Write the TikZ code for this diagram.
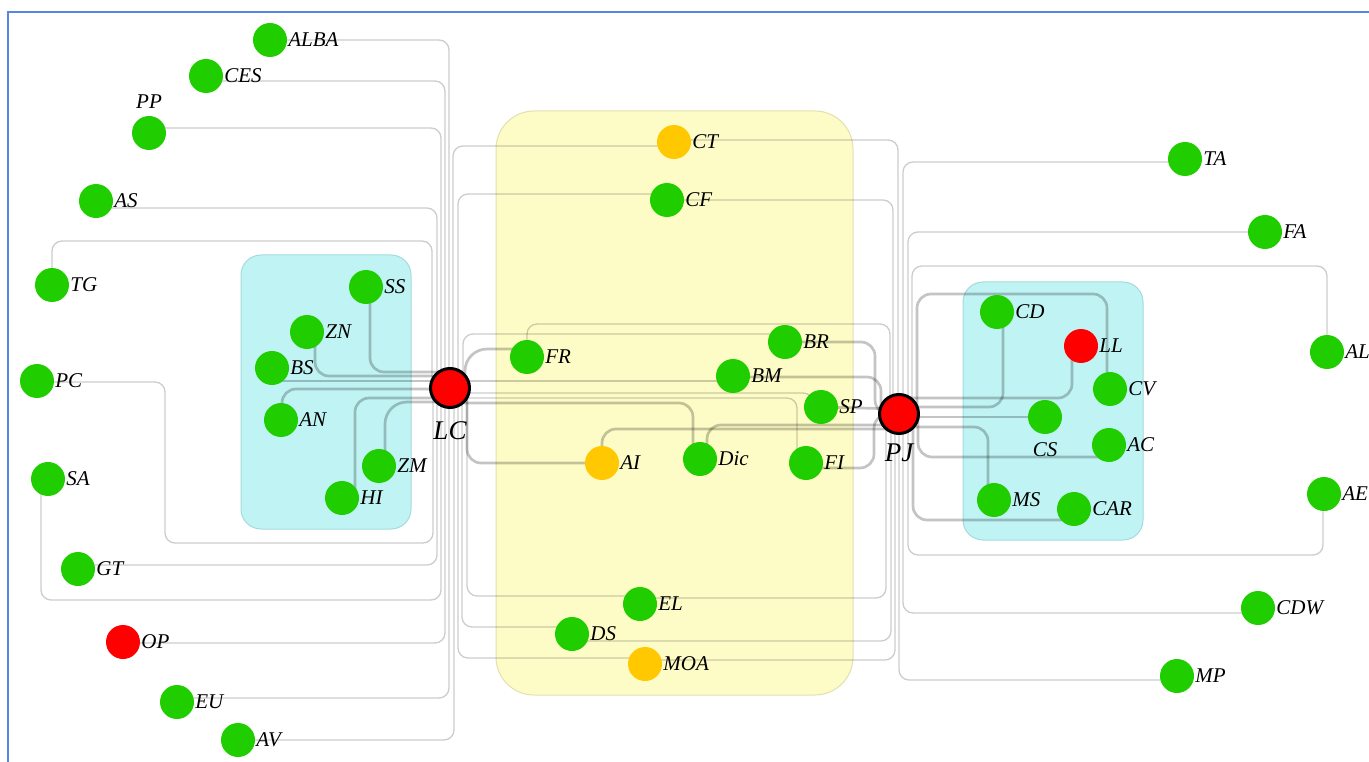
\documentclass[tikz,border=0pt]{standalone}
\usepackage{fontspec}
\setmainfont{Liberation Serif}
\pgfdeclarelayer{boxes}
\pgfdeclarelayer{wires}
\pgfsetlayers{boxes,wires,main}

\definecolor{nodegreen}{RGB}{32,206,0}
\definecolor{nodeorange}{RGB}{255,200,0}
\definecolor{nodered}{RGB}{255,0,0}
\definecolor{groupcyan}{RGB}{192,244,244}
\definecolor{groupcyanedge}{RGB}{165,218,220}
\definecolor{groupyellow}{RGB}{253,252,199}
\definecolor{groupyellowedge}{RGB}{226,224,176}
\definecolor{frameblue}{RGB}{85,135,225}

\tikzset{
  vtx/.style={circle, inner sep=0pt, minimum size=34pt, draw=none},
  gvtx/.style={vtx, fill=nodegreen},
  ovtx/.style={vtx, fill=nodeorange},
  rvtx/.style={vtx, fill=nodered},
  hub/.style={circle, inner sep=0pt, minimum size=39pt, fill=nodered, draw=black, line width=3pt},
  lab/.style={font=\fontsize{21}{21}\selectfont\itshape, inner sep=1pt},
  hublab/.style={font=\fontsize{27}{27}\selectfont\itshape, inner sep=1pt},
  thinw/.style={draw=black, draw opacity=0.2, line width=1.3pt, rounded corners=10pt},
  fatw/.style={draw=black, draw opacity=0.23, line width=2.7pt, rounded corners=14pt},
  cyanbox/.style={fill=groupcyan, draw=groupcyanedge, line width=1pt, rounded corners=20pt},
  yellowbox/.style={fill=groupyellow, draw=groupyellowedge, line width=1pt, rounded corners=38pt},
}

\begin{document}
\begin{tikzpicture}[x=1pt, y=-1pt]
\useasboundingbox (0,0) rectangle (1369,762);

% frame
\draw[frameblue, line width=1.5pt] (8,770) -- (8,12) -- (1375,12);

% group boxes
\begin{pgfonlayer}{boxes}
  \draw[cyanbox] (241,255) rectangle (411,529);
  \draw[yellowbox] (496,111) rectangle (853,695);
  \draw[cyanbox] (963,282) rectangle (1143,540);
\end{pgfonlayer}

% hubs
\node[hub, label={[hublab, label distance=11pt]south:LC}] (LC) at (450,388) {};
\node[hub, label={[hublab, label distance=8pt]south:PJ}] (PJ) at (899,414) {};

% left outer nodes
\node[gvtx, label={[lab]east:ALBA}] (ALBA) at (270,40) {};
\node[gvtx, label={[lab]east:CES}] (CES) at (206,76) {};
\node[gvtx, label={[lab, label distance=6pt]north:PP}] (PP) at (149,133) {};
\node[gvtx, label={[lab]east:AS}] (AS) at (96,201) {};
\node[gvtx, label={[lab]east:TG}] (TG) at (52,285) {};
\node[gvtx, label={[lab]east:PC}] (PC) at (37,381) {};
\node[gvtx, label={[lab]east:SA}] (SA) at (48,479) {};
\node[gvtx, label={[lab]east:GT}] (GT) at (78,569) {};
\node[rvtx, label={[lab]east:OP}] (OP) at (123,642) {};
\node[gvtx, label={[lab]east:EU}] (EU) at (177,702) {};
\node[gvtx, label={[lab]east:AV}] (AV) at (238,740) {};

% left group
\node[gvtx, label={[lab]east:SS}] (SS) at (366,287) {};
\node[gvtx, label={[lab]east:ZN}] (ZN) at (307,332) {};
\node[gvtx, label={[lab]east:BS}] (BS) at (272,368) {};
\node[gvtx, label={[lab]east:AN}] (AN) at (281,420) {};
\node[gvtx, label={[lab]east:ZM}] (ZM) at (379,466) {};
\node[gvtx, label={[lab]east:HI}] (HI) at (342,498) {};

% central group
\node[ovtx, label={[lab]east:CT}] (CT) at (674,142) {};
\node[gvtx, label={[lab]east:CF}] (CF) at (667,200) {};
\node[gvtx, label={[lab]east:FR}] (FR) at (527,357) {};
\node[gvtx, label={[lab]east:BR}] (BR) at (785,342) {};
\node[gvtx, label={[lab]east:BM}] (BM) at (733,376) {};
\node[gvtx, label={[lab]east:SP}] (SP) at (821,407) {};
\node[ovtx, label={[lab]east:AI}] (AI) at (602,463) {};
\node[gvtx, label={[lab]east:Dic}] (Dic) at (700,459) {};
\node[gvtx, label={[lab]east:FI}] (FI) at (806,463) {};
\node[gvtx, label={[lab]east:EL}] (EL) at (640,604) {};
\node[gvtx, label={[lab]east:DS}] (DS) at (572,634) {};
\node[ovtx, label={[lab]east:MOA}] (MOA) at (645,664) {};

% right group
\node[gvtx, label={[lab]east:CD}] (CD) at (997,312) {};
\node[rvtx, label={[lab]east:LL}] (LL) at (1081,346) {};
\node[gvtx, label={[lab]east:CV}] (CV) at (1110,389) {};
\node[gvtx, label={[lab, label distance=7pt]south:CS}] (CS) at (1045,417) {};
\node[gvtx, label={[lab]east:AC}] (AC) at (1109,445) {};
\node[gvtx, label={[lab]east:MS}] (MS) at (994,500) {};
\node[gvtx, label={[lab]east:CAR}] (CAR) at (1074,509) {};

% right outer nodes
\node[gvtx, label={[lab]east:TA}] (TA) at (1185,159) {};
\node[gvtx, label={[lab]east:FA}] (FA) at (1265,232) {};
\node[gvtx, label={[lab]east:AL}] (AL) at (1327,352) {};
\node[gvtx, label={[lab]east:AE}] (AE) at (1324,494) {};
\node[gvtx, label={[lab]east:CDW}] (CDW) at (1258,608) {};
\node[gvtx, label={[lab]east:MP}] (MP) at (1177,676) {};

\begin{pgfonlayer}{wires}
  % left outer links into LC
  \draw[thinw] (ALBA.center) -| ([xshift=-1pt]LC.center);
  \draw[thinw] ([yshift=-5pt]CES.center) -| ([xshift=-5pt]LC.center);
  \draw[thinw] ([yshift=5pt]PP.center) -| ([xshift=-9pt]LC.center);
  \draw[thinw] ([yshift=-7pt]AS.center) -| ([xshift=-13pt]LC.center);
  \draw[thinw] (TG.center) |- (432,241) -- ([xshift=-18pt]LC.center);
  \draw[thinw] ([yshift=-1pt]PC.center) -| (165,543) -| ([xshift=-17pt]LC.center);
  \draw[thinw] ([yshift=4pt]GT.center) -| ([xshift=-13pt]LC.center);
  \draw[thinw] ([xshift=-7pt]SA.center) |- (441,600) -- ([xshift=-9pt]LC.center);
  \draw[thinw] ([yshift=-1pt]OP.center) -| ([xshift=-5pt]LC.center);
  \draw[thinw] ([yshift=4pt]EU.center) -| ([xshift=-1pt]LC.center);
  \draw[thinw] (AV.center) -| ([xshift=4pt]LC.center);

  % left group links
  \draw[fatw] ([xshift=4pt]SS.center) |- ([yshift=16pt]LC.center);
  \draw[fatw] ([xshift=8pt]ZN.center) |- ([yshift=12pt]LC.center);
  \draw[fatw] ([yshift=-13pt]BS.center) -- ([yshift=7pt]LC.center);
  \draw[fatw] ([xshift=1pt]AN.center) |- ([yshift=-1pt]LC.center);
  \draw[fatw] ([xshift=13pt]HI.center) |- ([yshift=-10pt]LC.center);
  \draw[fatw, rounded corners=22pt] ([xshift=6pt]ZM.center) |- ([yshift=-14pt]LC.center);

  % central links
  \draw[thinw] ([yshift=-4pt]CT.center) -| ([xshift=3pt]LC.center);
  \draw[thinw] ([yshift=2pt]CT.center) -| ([xshift=-1pt]PJ.center);
  \draw[thinw] ([yshift=6pt]CF.center) -| ([xshift=8pt]LC.center);
  \draw[thinw] (CF.center) -| ([xshift=-6pt]PJ.center);
  \draw[thinw] ([yshift=8pt]EL.center) -| ([xshift=17pt]LC.center);
  \draw[thinw] ([yshift=6pt]EL.center) -| ([xshift=-13pt]PJ.center);
  \draw[thinw] ([yshift=7pt]DS.center) -| ([xshift=12pt]LC.center);
  \draw[thinw] ([yshift=-7pt]DS.center) -| ([xshift=-8pt]PJ.center);
  \draw[thinw] ([yshift=6pt]MOA.center) -| ([xshift=8pt]LC.center);
  \draw[thinw] ([yshift=4pt]MOA.center) -| ([xshift=-4pt]PJ.center);
  \draw[thinw] (FR.center) |- (890,324) -- ([xshift=-9pt]PJ.center);
  \draw[fatw, rounded corners=22pt] ([xshift=15pt]LC.center) |- ([yshift=8pt]FR.center);
  \draw[thinw] ([xshift=13pt]LC.center) |- ([yshift=8pt]BR.center);
  \draw[fatw] (BR.center) -| ([xshift=-24pt]PJ.center) -- (PJ.center);
  \draw[fatw] ([yshift=-1pt]BM.center) -| ([xshift=-18pt]PJ.center);
  \draw[fatw] (SP.center) -- ([yshift=5pt]PJ.center);
  \draw[fatw] ([yshift=-5pt]FI.center) -| ([xshift=-25pt]PJ.center) -- (PJ.center);
  \draw[thinw] ([yshift=7pt]LC.center) -- ([yshift=-5pt]BM.center);
  \draw[thinw] ([yshift=-5pt]LC.center) -| ([xshift=-8pt]SP.center);
  \draw[thinw] ([yshift=-10pt]LC.center) -| ([xshift=-9pt]FI.center);
  \draw[fatw] ([yshift=-15pt]LC.center) -| ([xshift=-7pt]Dic.center);
  \draw[fatw, rounded corners=14pt] ([xshift=17pt]LC.center) |- (AI.center);
  \draw[fatw] (AI.center) |- ([yshift=-15pt]PJ.center);
  \draw[fatw] ([xshift=7pt]Dic.center) |- ([yshift=-11pt]PJ.center);

  % right outer links into PJ
  \draw[thinw] ([yshift=-3pt]TA.center) -| ([xshift=4pt]PJ.center);
  \draw[thinw] (FA.center) -| ([xshift=9pt]PJ.center);
  \draw[thinw] (AL.center) |- (912,266) -- ([xshift=13pt]PJ.center);
  \draw[thinw] ([xshift=-1pt]AE.center) |- (908,555) -- ([xshift=9pt]PJ.center);
  \draw[thinw] ([yshift=-5pt]CDW.center) -| ([xshift=4pt]PJ.center);
  \draw[thinw] ([yshift=-4pt]MP.center) -| (PJ.center);

  % right group links
  \draw[fatw] ([xshift=-3pt]CV.center) |- (917,294) -- ([xshift=18pt]PJ.center);
  \draw[fatw] ([xshift=6pt]CD.center) |- ([yshift=7pt]PJ.center);
  \draw[fatw] ([xshift=-9pt]LL.center) |- ([yshift=16pt]PJ.center);
  \draw[fatw] (CS.center) -- ([yshift=-3pt]PJ.center);
  \draw[fatw] ([xshift=-6pt]MS.center) |- ([yshift=-13pt]PJ.center);
  \draw[fatw] ([yshift=-12pt]AC.center) -| ([xshift=19pt]PJ.center);
  \draw[fatw] ([yshift=-11pt]CAR.center) -| ([xshift=14pt]PJ.center);
\end{pgfonlayer}
\end{tikzpicture}
\end{document}
